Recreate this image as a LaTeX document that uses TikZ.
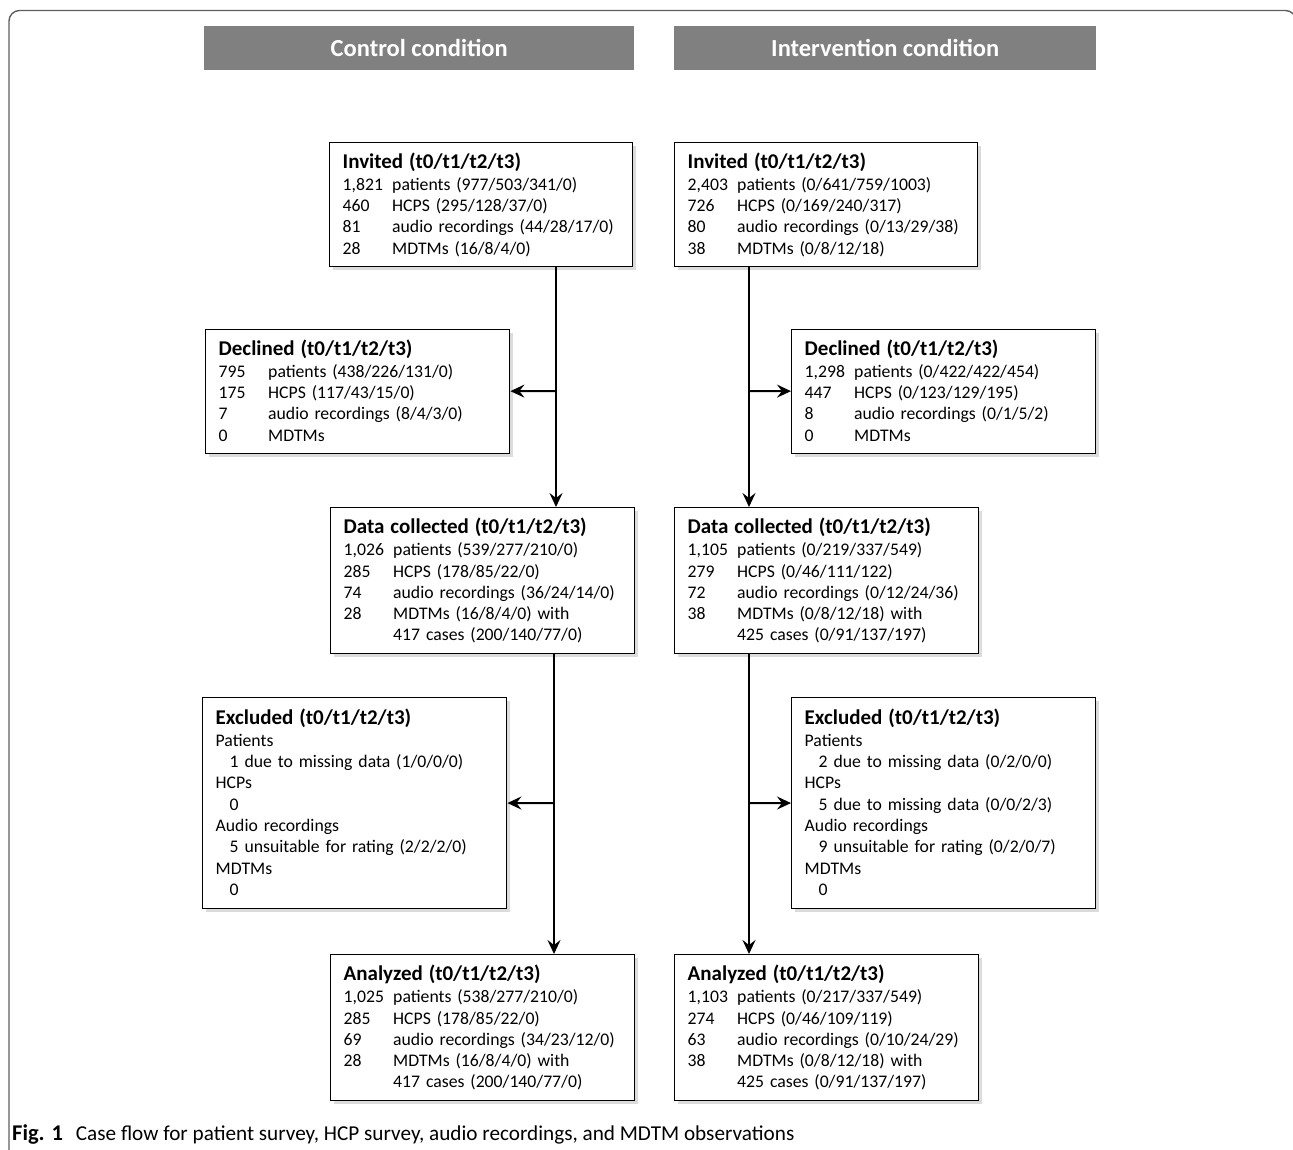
\documentclass[tikz,border=0pt]{standalone}
\usepackage{fontspec}
\setmainfont{Carlito}
\usetikzlibrary{arrows.meta,shadows}
\definecolor{hdrgray}{RGB}{128,128,128}
\definecolor{framegray}{RGB}{95,95,95}
\newcommand{\bxtitle}[1]{\multicolumn{2}{@{}l@{}}{\fontsize{21}{25}\selectfont\bfseries #1}\\[0.7pt]}
\newcommand{\bxhead}[1]{{\fontsize{21}{25}\selectfont\bfseries #1}\\[0.7pt]}
\newcommand{\ind}{\hspace*{14pt}}
\newcommand{\lowr}[1]{\raisebox{-2pt}[\height][\depth]{#1}}
\begin{document}
\begin{tikzpicture}[x=1pt,y=-1pt,
  box/.style 2 args={draw=black,line width=1.4pt,fill=white,anchor=north west,
    inner xsep=13pt,inner ysep=0pt,align=left,
    font=\fontsize{17.7}{21.3}\selectfont,
    minimum width=#1,minimum height=#2,
    drop shadow={shadow xshift=3.5pt,shadow yshift=-3.5pt,fill=black!28}},
  hdr/.style={fill=hdrgray,anchor=north west,minimum height=44,inner sep=0pt,
    text=white,font=\fontsize{24.5}{28}\selectfont\bfseries},
  arr/.style={line width=2pt,-{Stealth[length=14pt,width=13pt,inset=5pt]}},
  framepath/.style={draw=framegray,line width=1.4pt,rounded corners=10.5pt}]
\useasboundingbox (0,0) rectangle (1293,1149);
% frame
\draw[framepath] (9,1170) -- (9,10.5) -- (1296,10.5) -- (1296,1170);
% headers
\node[hdr,minimum width=430] (hdrL) at (204,26) {Control condition};
\node[hdr,minimum width=422] (hdrR) at (674,26) {Intervention condition};
% control column
\node[box={303}{124},text width=277] (invL) at (329,142) {\lowr{%
\begin{tabular}{@{}p{49.5pt}@{}l@{}}
\bxtitle{Invited (t0/t1/t2/t3)}
1,821 & patients (977/503/341/0)\\
460 & HCPS (295/128/37/0)\\
81 & audio recordings (44/28/17/0)\\
28 & MDTMs (16/8/4/0)
\end{tabular}}};
\node[box={304}{124},text width=278] (decL) at (205,329) {\lowr{%
\begin{tabular}{@{}p{49.5pt}@{}l@{}}
\bxtitle{Declined (t0/t1/t2/t3)}
795 & patients (438/226/131/0)\\
175 & HCPS (117/43/15/0)\\
7 & audio recordings (8/4/3/0)\\
0 & MDTMs
\end{tabular}}};
\node[box={304}{146},text width=278] (dcL) at (330,507) {\lowr{%
\begin{tabular}{@{}p{49.5pt}@{}l@{}}
\bxtitle{Data collected (t0/t1/t2/t3)}
1,026 & patients (539/277/210/0)\\
285 & HCPS (178/85/22/0)\\
74 & audio recordings (36/24/14/0)\\
28 & MDTMs (16/8/4/0) with\\
 & 417 cases (200/140/77/0)
\end{tabular}}};
\node[box={304}{211},text width=278] (exL) at (202,697) {\lowr{%
\begin{tabular}{@{}l@{}}
\bxhead{Excluded (t0/t1/t2/t3)}
Patients\\
\ind 1 due to missing data (1/0/0/0)\\
HCPs\\
\ind 0\\
Audio recordings\\
\ind 5 unsuitable for rating (2/2/2/0)\\
MDTMs\\
\ind 0
\end{tabular}}};
\node[box={304}{146},text width=278] (anL) at (330,954) {\lowr{%
\begin{tabular}{@{}p{49.5pt}@{}l@{}}
\bxtitle{Analyzed (t0/t1/t2/t3)}
1,025 & patients (538/277/210/0)\\
285 & HCPS (178/85/22/0)\\
69 & audio recordings (34/23/12/0)\\
28 & MDTMs (16/8/4/0) with\\
 & 417 cases (200/140/77/0)
\end{tabular}}};
% intervention column
\node[box={303}{124},text width=277] (invR) at (674,142) {\lowr{%
\begin{tabular}{@{}p{49.5pt}@{}l@{}}
\bxtitle{Invited (t0/t1/t2/t3)}
2,403 & patients (0/641/759/1003)\\
726 & HCPS (0/169/240/317)\\
80 & audio recordings (0/13/29/38)\\
38 & MDTMs (0/8/12/18)
\end{tabular}}};
\node[box={304}{124},text width=278] (decR) at (791,329) {\lowr{%
\begin{tabular}{@{}p{49.5pt}@{}l@{}}
\bxtitle{Declined (t0/t1/t2/t3)}
1,298 & patients (0/422/422/454)\\
447 & HCPS (0/123/129/195)\\
8 & audio recordings (0/1/5/2)\\
0 & MDTMs
\end{tabular}}};
\node[box={304}{146},text width=278] (dcR) at (674,507) {\lowr{%
\begin{tabular}{@{}p{49.5pt}@{}l@{}}
\bxtitle{Data collected (t0/t1/t2/t3)}
1,105 & patients (0/219/337/549)\\
279 & HCPS (0/46/111/122)\\
72 & audio recordings (0/12/24/36)\\
38 & MDTMs (0/8/12/18) with\\
 & 425 cases (0/91/137/197)
\end{tabular}}};
\node[box={304}{211},text width=278] (exR) at (791,697) {\lowr{%
\begin{tabular}{@{}l@{}}
\bxhead{Excluded (t0/t1/t2/t3)}
Patients\\
\ind 2 due to missing data (0/2/0/0)\\
HCPs\\
\ind 5 due to missing data (0/0/2/3)\\
Audio recordings\\
\ind 9 unsuitable for rating (0/2/0/7)\\
MDTMs\\
\ind 0
\end{tabular}}};
\node[box={304}{146},text width=278] (anR) at (674,954) {\lowr{%
\begin{tabular}{@{}p{49.5pt}@{}l@{}}
\bxtitle{Analyzed (t0/t1/t2/t3)}
1,103 & patients (0/217/337/549)\\
274 & HCPS (0/46/109/119)\\
63 & audio recordings (0/10/24/29)\\
38 & MDTMs (0/8/12/18) with\\
 & 425 cases (0/91/137/197)
\end{tabular}}};
% junctions
\coordinate (jL1) at (556,391);
\coordinate (jL2) at (554,803);
\coordinate (jR1) at (749,391);
\coordinate (jR2) at (749,803);
% connectors
\draw[arr] (invL.south -| jL1) -- (dcL.north -| jL1);
\draw[arr] (jL1) -- (decL);
\draw[arr] (dcL.south -| jL2) -- (anL.north -| jL2);
\draw[arr] (jL2) -- (exL);
\draw[arr] (invR.south -| jR1) -- (dcR.north -| jR1);
\draw[arr] (jR1) -- (decR);
\draw[arr] (dcR.south -| jR2) -- (anR.north -| jR2);
\draw[arr] (jR2) -- (exR);
% caption
\node[anchor=base west,inner sep=0pt,font=\fontsize{21.2}{25}\selectfont] (cap) at (12,1140)
  {{\fontsize{22.5}{25}\selectfont\bfseries Fig. 1}\hspace{13pt}Case flow for patient survey, HCP survey, audio recordings, and MDTM observations};
\end{tikzpicture}
\end{document}
